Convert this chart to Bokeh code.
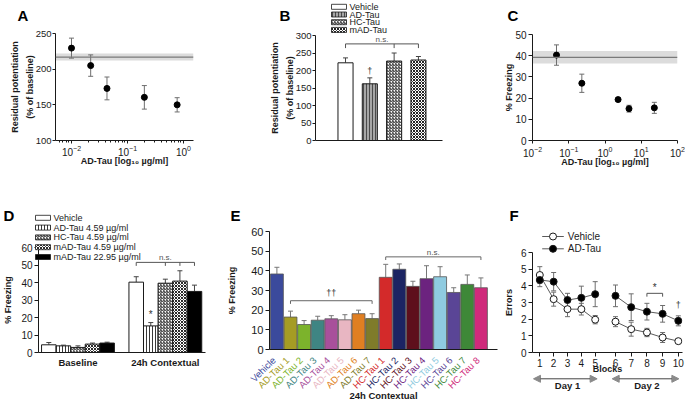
from bokeh.plotting import figure
from bokeh.models import (ColumnDataSource, Range1d, FixedTicker, Whisker, TeeHead, GridBox,
                          BoxAnnotation, Span, Label, Arrow, NormalHead)
from bokeh.core.properties import value
from bokeh.embed import file_html
from bokeh.resources import INLINE

# ---------------- data ----------------
# A: residual potentiation vs AD-Tau concentration
a_conc = [0.01, 0.022, 0.043, 0.2, 0.77]
a_mean = [229.5, 205, 173, 160.5, 150]
a_err = [14, 15, 16, 16.5, 10]
a_vehicle = 217
a_vehicle_lo = 212
a_vehicle_hi = 222
a_yticks = [100, 150, 200, 250]

# B
b_groups = ["Vehicle", "AD-Tau", "HC-Tau", "mAD-Tau"]
b_mean = [222, 162, 227, 230]
b_err = [14, 17, 23, 10]
b_yticks = [0, 50, 100, 150, 200, 250, 300]

# C: freezing vs AD-Tau concentration
c_conc = [0.0459, 0.2295, 2.295, 4.59, 22.95]
c_mean = [40.3, 27, 19.3, 15, 15.4]
c_err = [4.8, 4.3, 0.8, 1.6, 2.6]
c_vehicle = 39.2
c_vehicle_lo = 36.3
c_vehicle_hi = 42.2
c_yticks = [0, 10, 20, 30, 40, 50]

# D
d_groups = ["Vehicle", "AD-Tau 4.59 µg/ml", "HC-Tau 4.59 µg/ml", "mAD-Tau 4.59 µg/ml", "mAD-Tau 22.95 µg/ml"]
d_phases = ["Baseline", "24h Contextual"]
d_baseline = [4.4, 3.8, 2.9, 4.8, 5.4]
d_baseline_err = [1.3, 0.4, 0.9, 0.6, 0.5]
d_context = [40.2, 15.2, 39.6, 40.8, 34.9]
d_context_err = [3.1, 1.9, 2.3, 5.9, 3.6]
d_yticks = [0, 10, 20, 30, 40, 50, 60]

# E
e_groups = ["Vehicle", "AD-Tau 1", "AD-Tau 2", "AD-Tau 3", "AD-Tau 4", "AD-Tau 5", "AD-Tau 6", "AD-Tau 7",
            "HC-Tau 1", "HC-Tau 2", "HC-Tau 3", "HC-Tau 4", "HC-Tau 5", "HC-Tau 6", "HC-Tau 7", "HC-Tau 8"]
e_mean = [38.4, 16.5, 12.7, 14.9, 15.6, 15.1, 18.2, 15.7, 36.7, 40.8, 32.1, 36.0, 37.0, 29.0, 33.1, 31.4]
e_err = [3.4, 3.0, 2.0, 2.0, 1.6, 2.6, 1.8, 2.5, 6.6, 2.7, 2.6, 6.6, 5.1, 2.4, 4.8, 5.0]
e_yticks = [0, 10, 20, 30, 40, 50, 60]

# F
f_blocks = [1, 2, 3, 4, 5, 6, 7, 8, 9, 10]
f_day = [1, 1, 1, 1, 1, 2, 2, 2, 2, 2]
f_series = ["Vehicle", "AD-Tau"]
f_vehicle = [4.65, 3.2, 2.6, 2.6, 1.97, 1.85, 1.4, 1.2, 0.9, 0.68]
f_vehicle_err = [0.5, 0.42, 0.45, 0.35, 0.25, 0.3, 0.42, 0.25, 0.3, 0.1]
f_adtau = [4.35, 4.25, 3.15, 3.28, 3.5, 3.4, 2.72, 2.45, 2.32, 1.9]
f_adtau_err = [0.4, 0.55, 0.4, 0.7, 0.75, 0.65, 0.8, 0.5, 0.5, 0.3]
f_yticks = [0, 1, 2, 3, 4, 5, 6]

panel_letters = ["A", "B", "C", "D", "E", "F"]

# ---------------- styles ----------------
FONT = "Liberation Sans"
INK = "#1a1a1a"
ERR = "#6e6e6e"
e_colors = ["#3b4a9c", "#a59c24", "#7cb32c", "#3f8583", "#a8509b", "#e8b6c2", "#e07f22", "#7f7b2a",
            "#d32a2a", "#1c2463", "#5e0f1c", "#6c237f", "#8fcbe0", "#5a4596", "#3e8838", "#cf2a7b"]
b_fill = ["white", "#a6a6a6", "white", "white"]
b_hatch = [" ", "|", "/", "x"]
b_hcol = ["black", "#4a4a4a", "#222222", "#222222"]
d_fill = ["white", "white", "white", "white", "black"]
d_hatch = [" ", "|", "/", "x", " "]
d_hcol = ["black", "#3a3a3a", "#222222", "#2a2a2a", "black"]
f_fill = ["white", "black"]

# layout boxes (width, height, border left/right/top/bottom) of each panel
A = dict(w=220, h=200, ml=55, mr=27, mt=33, mb=60)
B = dict(w=230, h=200, ml=95, mr=8, mt=35, mb=60)
C = dict(w=235, h=200, ml=82, mr=8, mt=34, mb=60)
D = dict(w=220, h=203, ml=33, mr=15, mt=47, mb=51)
E = dict(w=280, h=203, ml=49, mr=3, mt=31, mb=52)
F = dict(w=185, h=203, ml=32, mr=3, mt=52, mb=51)


def make_fig(L, xr, yr, x_type="linear"):
    p = figure(width=L["w"], height=L["h"], x_range=xr, y_range=yr, x_axis_type=x_type,
               output_backend="svg", toolbar_location=None, frame_align=False,
               min_border_left=L["ml"], min_border_right=L["mr"],
               min_border_top=L["mt"], min_border_bottom=L["mb"])
    p.outline_line_color = None
    p.xgrid.visible = False
    p.ygrid.visible = False
    for ax in p.axis:
        ax.axis_line_color = INK
        ax.major_tick_line_color = INK
        ax.minor_tick_line_color = None
        ax.major_tick_out = 4
        ax.major_tick_in = 0
        ax.major_label_text_font = FONT
        ax.major_label_text_font_size = "10px"
        ax.major_label_text_color = INK
        ax.major_label_standoff = 2
        ax.axis_label_text_font = FONT
        ax.axis_label_text_font_style = "bold"
        ax.axis_label_text_font_size = "9px"
        ax.axis_label_text_color = INK
        ax.axis_label_standoff = 4
    return p


def overlay(w, h, xr, yr, ml=0, mr=0):
    p = figure(width=w, height=h, x_range=xr, y_range=yr, x_axis_type=None, y_axis_type=None,
               output_backend="svg", toolbar_location=None, frame_align=False,
               min_border_left=ml, min_border_right=mr, min_border_top=0, min_border_bottom=0)
    p.outline_line_color = None
    p.background_fill_color = None
    p.border_fill_color = None
    return p


def whisker(p, x, lo, hi, color=ERR, size=5, both=True):
    src = ColumnDataSource(dict(base=x, lower=lo, upper=hi))
    head = lambda: TeeHead(size=size, line_color=color, line_width=1)
    p.add_layout(Whisker(source=src, base="base", lower="lower", upper="upper", line_color=color, line_width=1,
                         upper_head=head(), lower_head=head() if both else None))


def bracket(p, x_ticks, y_top, y_bot, color="#555555"):
    xs = [[min(x_ticks), max(x_ticks)]] + [[x, x] for x in x_ticks]
    ys = [[y_top, y_top]] + [[y_top, y_bot] for _ in x_ticks]
    p.multi_line(xs, ys, line_color=color, line_width=1)


def note(p, x, y, text, size="9px", color="#333333"):
    p.add_layout(Label(x=x, y=y, text=text, text_align="center", text_baseline="middle",
                       text_font=FONT, text_font_size=size, text_color=color))


def two_line_ylabel(p, text):
    ax = p.yaxis[0]
    ax.axis_label = text
    ax.axis_label_text_line_height = 1.5
    ax.axis_label_standoff = -2
    ax.major_label_text_font_size = "9.5px"
    ax.major_tick_out = 3
    ax.major_label_standoff = 1


# ---------------- A ----------------
pA = make_fig(A, Range1d(10 ** -2.2857, 10 ** 0.1786), Range1d(100, 250), "log")
pA.yaxis.ticker = FixedTicker(ticks=a_yticks)
pA.xaxis.minor_tick_line_color = INK
pA.xaxis.minor_tick_out = 2
pA.xaxis.minor_tick_in = 0
pA.xaxis.major_tick_out = 3
pA.xaxis.major_label_standoff = 1
pA.xaxis.axis_label_standoff = -3
two_line_ylabel(pA, "Residual potentiation\n(% of baseline)")
pA.xaxis.axis_label = "AD-Tau [log₁₀ µg/ml]"
pA.add_layout(BoxAnnotation(bottom=a_vehicle_lo, top=a_vehicle_hi, fill_color="#dcdcdc", fill_alpha=1,
                            line_color=None, level="underlay"))
pA.add_layout(Span(location=a_vehicle, dimension="width", line_color="#7a7a7a", line_width=1.2))
whisker(pA, a_conc, [m - e for m, e in zip(a_mean, a_err)], [m + e for m, e in zip(a_mean, a_err)])
pA.scatter(a_conc, a_mean, size=6, color="black")

# ---------------- B ----------------
pB = make_fig(B, Range1d(-0.235, 4.99), Range1d(0, 300))
pB.xaxis.ticker = FixedTicker(ticks=[])
pB.yaxis.ticker = FixedTicker(ticks=b_yticks)
two_line_ylabel(pB, "Residual potentiation\n(% of baseline)")
b_x = list(range(1, len(b_groups) + 1))
srcB = ColumnDataSource(dict(x=b_x, top=b_mean, fill=b_fill, hatch=b_hatch, hcol=b_hcol))
whisker(pB, b_x, b_mean, [m + e for m, e in zip(b_mean, b_err)], color="#444444", both=False)
pB.vbar(x="x", top="top", width=0.62, source=srcB, fill_color="fill", line_color=INK,
        hatch_pattern="hatch", hatch_color="hcol", hatch_scale=3, hatch_weight=1)
bracket(pB, [b_x[0], b_x[2], b_x[3]], 276, 264)
note(pB, (b_x[0] + b_x[3]) / 2, 289, "n.s.", size="8px", color="#555555")
note(pB, b_x[1], 200, "†", size="9px")

# ---------------- C ----------------
pC = make_fig(C, Range1d(0.01, 100), Range1d(0, 50), "log")
pC.yaxis.ticker = FixedTicker(ticks=c_yticks)
pC.xaxis.major_tick_out = 3
pC.xaxis.major_label_standoff = 1
pC.xaxis.axis_label_standoff = -3
pC.yaxis.axis_label = "% Freezing"
pC.yaxis.axis_label_standoff = -2
pC.xaxis.axis_label = "AD-Tau [log₁₀ µg/ml]"
pC.add_layout(BoxAnnotation(bottom=c_vehicle_lo, top=c_vehicle_hi, fill_color="#dcdcdc", fill_alpha=1,
                            line_color=None, level="underlay"))
pC.add_layout(Span(location=c_vehicle, dimension="width", line_color="#7a7a7a", line_width=1.2))
whisker(pC, c_conc, [m - e for m, e in zip(c_mean, c_err)], [m + e for m, e in zip(c_mean, c_err)])
pC.scatter(c_conc, c_mean, size=6, color="black")

# ---------------- D ----------------
pD = make_fig(D, Range1d(-0.71, 10.757), Range1d(0, 60))
pD.yaxis.ticker = FixedTicker(ticks=d_yticks)
pD.yaxis.axis_label = "% Freezing"
pD.yaxis.major_label_standoff = 2
pD.yaxis.axis_label_standoff = 5
n = len(d_groups)
d_x = [i + ph * (n + 1) for ph in range(len(d_phases)) for i in range(n)]
d_top = d_baseline + d_context
d_errs = d_baseline_err + d_context_err
srcD = ColumnDataSource(dict(x=d_x, top=d_top, fill=d_fill * 2, hatch=d_hatch * 2, hcol=d_hcol * 2))
whisker(pD, d_x, d_top, [m + e for m, e in zip(d_top, d_errs)], color="#444444", both=False)
pD.vbar(x="x", top="top", width=1.0, source=srcD, fill_color="fill", line_color=INK,
        hatch_pattern="hatch", hatch_color="hcol", hatch_scale=3, hatch_weight=1)
phase_centers = [sum(d_x[ph * n:(ph + 1) * n]) / n for ph in range(len(d_phases))]
pD.xaxis.ticker = FixedTicker(ticks=phase_centers)
pD.xaxis.major_label_overrides = {c: t for c, t in zip(phase_centers, d_phases)}
pD.xaxis.major_tick_line_color = None
pD.xaxis.major_tick_out = 0
pD.xaxis.major_label_standoff = 4
pD.xaxis.major_label_text_font_style = "bold"
pD.xaxis.major_label_text_font_size = "9.5px"
ctx = d_x[n:]
bracket(pD, [ctx[0], ctx[2], ctx[3], ctx[4]], 51.5, 49.5)
note(pD, (ctx[0] + ctx[4]) / 2, 54.5, "n.s.", size="8px", color="#555555")
note(pD, ctx[1], 21.5, "*", size="10px")

# ---------------- E ----------------
e_range = (-0.544, 16.22)
pE = make_fig(E, Range1d(*e_range), Range1d(0, 60))
pE.yaxis.ticker = FixedTicker(ticks=e_yticks)
pE.yaxis.axis_label = "% Freezing"
pE.yaxis.major_label_text_font_size = "11px"
pE.yaxis.axis_label_standoff = 11
pE.xaxis.ticker = FixedTicker(ticks=[])
pE.xaxis.major_tick_out = 0
pE.xaxis.axis_label = "24h Contextual"
pE.xaxis.axis_label_text_font_size = "9.5px"
pE.xaxis.axis_label_standoff = 40
e_x = list(range(len(e_groups)))
srcE = ColumnDataSource(dict(x=e_x, top=e_mean, color=e_colors, name=e_groups))
whisker(pE, e_x, e_mean, [m + e for m, e in zip(e_mean, e_err)], color="#777777", both=False)
pE.vbar(x="x", top="top", width=0.95, source=srcE, fill_color="color", line_color="#555555", line_width=0.8)
ad = [i for i, g in enumerate(e_groups) if g.startswith("AD")]
hc = [i for i, g in enumerate(e_groups) if g.startswith("HC")]
bracket(pE, [ad[0], ad[-1]], 24.8, 23.2, color="#666666")
note(pE, (ad[0] + ad[-1]) / 2, 28.8, "††", size="9px")
bracket(pE, [hc[0], hc[-1]], 47.1, 45.5, color="#666666")
note(pE, (hc[0] + hc[-1]) / 2, 49.2, "n.s.", size="8px", color="#555555")

# overlay carrying E's rotated, coloured category names (same x scale as E, extended to the panel edges)
e_fw = E["w"] - E["ml"] - E["mr"]
e_px = e_fw / (e_range[1] - e_range[0])
ovE = overlay(E["w"], E["h"], Range1d(e_range[0] - E["ml"] / e_px, e_range[1] + E["mr"] / e_px),
              Range1d(E["h"], 0))
ovE.text(x="x", y=E["h"] - E["mb"] + 7, text="name", text_color="color", source=srcE, angle=45,
         angle_units="deg", text_align="right", text_baseline="middle", x_offset=-3,
         text_font=value(FONT), text_font_size="9.5px")

# ---------------- F ----------------
pF = make_fig(F, Range1d(0.473, 11.304), Range1d(0, 6))
day_gap, day2_step = 1.466, 1.134
first2 = f_day.index(2)
f_pos = [b if d == 1 else f_blocks[first2 - 1] + day_gap + (b - f_blocks[first2]) * day2_step
         for b, d in zip(f_blocks, f_day)]
f_pos = [round(v, 3) for v in f_pos]
pF.xaxis.ticker = FixedTicker(ticks=f_pos)
pF.xaxis.major_label_overrides = {p: str(b) for p, b in zip(f_pos, f_blocks)}
pF.yaxis.ticker = FixedTicker(ticks=f_yticks)
pF.yaxis.axis_label = "Errors"
pF.yaxis.major_label_standoff = 2
pF.yaxis.axis_label_standoff = 4
pF.xaxis.axis_label = "Blocks"
pF.xaxis.axis_label_standoff = -6


def broken(vals):
    return vals[:first2] + [float("nan")] + vals[first2:]


fx = broken(f_pos)
whisker(pF, f_pos, [m - e for m, e in zip(f_vehicle, f_vehicle_err)],
        [m + e for m, e in zip(f_vehicle, f_vehicle_err)])
whisker(pF, f_pos, [m - e for m, e in zip(f_adtau, f_adtau_err)],
        [m + e for m, e in zip(f_adtau, f_adtau_err)])
for vals, fill in zip([f_vehicle, f_adtau], f_fill):
    pF.line(fx, broken(vals), line_color="#5a5a5a", line_width=1)
    pF.scatter(f_pos, vals, size=7, fill_color=fill, line_color=INK, line_width=1)
bracket(pF, [f_pos[7], f_pos[8]], 3.55, 3.35)
note(pF, (f_pos[7] + f_pos[8]) / 2, 3.9, "*", size="10px")
note(pF, f_pos[9], 2.85, "†", size="9px")

# overlay below F: the two day arrows on F's own x scale
ovF = overlay(F["w"], F["h"], pF.x_range, Range1d(F["h"], 0), ml=F["ml"], mr=F["mr"])
for d, (a0, a1) in zip([1, 2], [(-0.455, 0.14), (-0.24, 0.04)]):
    idx = [i for i, dd in enumerate(f_day) if dd == d]
    xs, xe = f_pos[idx[0]] + a0, f_pos[idx[-1]] + a1
    head = lambda: NormalHead(size=7, fill_color="#8a8a8a", line_color="#8a8a8a")
    ovF.add_layout(Arrow(x_start=xs, y_start=178.3, x_end=xe, y_end=178.3, start=head(), end=head(),
                         line_color="#444444", line_width=1))
    mid = sum(f_pos[i] for i in idx) / len(idx)
    ovF.text(x=[mid], y=[184.5], text=[f"Day {d}"], text_align="center", text_baseline="middle",
             text_font=value(FONT), text_font_style="bold", text_font_size="9.5px", text_color=INK)

# ---------------- page overlay: panel letters and legends ----------------
page = overlay(685, 403, Range1d(0, 685), Range1d(403, 0))
page.text(x=[17, 279, 507, 3, 230, 509], y=[15, 15, 15, 215, 215, 215], text=panel_letters,
          text_font=value(FONT), text_font_style="bold", text_font_size="15px", text_baseline="alphabetic",
          text_color="black")

# legend of B
b_leg_y = [6.3 + 7.7 * i for i in range(len(b_groups))]
page.quad(left=331, right=346, top=[y - 2.5 for y in b_leg_y], bottom=[y + 2.5 for y in b_leg_y],
          fill_color=b_fill, hatch_pattern=b_hatch, hatch_color=b_hcol, hatch_scale=3, hatch_weight=1,
          line_color=INK, line_width=0.8)
page.text(x=349, y=b_leg_y, text=b_groups, text_baseline="middle", text_font=value(FONT),
          text_font_size="9px", text_color=INK)

# legend of D
d_leg_y = [217.3 + 9.8 * i for i in range(len(d_groups))]
page.quad(left=35, right=50, top=[y - 2.5 for y in d_leg_y], bottom=[y + 2.5 for y in d_leg_y],
          fill_color=d_fill, hatch_pattern=d_hatch, hatch_color=d_hcol, hatch_scale=3, hatch_weight=1,
          line_color=INK, line_width=0.8)
page.text(x=53, y=d_leg_y, text=d_groups, text_baseline="middle", text_font=value(FONT),
          text_font_size="9px", text_color=INK)

# legend of F
f_leg_y = [236, 248.3]
page.segment(x0=541.7, x1=563.3, y0=f_leg_y, y1=f_leg_y, line_color="#5a5a5a", line_width=1)
page.scatter(x=552.5, y=f_leg_y, size=7, fill_color=f_fill, line_color=INK, line_width=1)
page.text(x=567.3, y=f_leg_y, text=f_series, text_baseline="middle", text_font=value(FONT),
          text_font_size="10px", text_color=INK)

grid = GridBox(children=[(pA, 0, 0), (pB, 0, 1), (pC, 0, 2, 1, 2),
                         (pD, 1, 0), (pE, 1, 1, 1, 2), (pF, 1, 3),
                         (ovE, 1, 1, 1, 2), (ovF, 1, 3), (page, 0, 0, 2, 4)],
               cols=["220px", "230px", "50px", "185px"], rows=["200px", "203px"])
open("out.html", "w").write(file_html(grid, INLINE))
